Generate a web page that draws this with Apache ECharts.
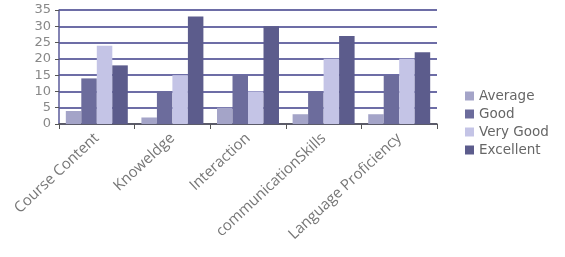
<!DOCTYPE html>
<html>
<head>
<meta charset="utf-8">
<script src="https://cdn.jsdelivr.net/npm/echarts@6/dist/echarts.min.js"></script>
<style>
  html, body { margin: 0; padding: 0; background: #fff; }
  #main { width: 565px; height: 257px; }
</style>
</head>
<body>
<div id="main"></div>
<script>
// categories and ratings
var categories = ['Course Content', 'Knoweldge', 'Interaction', 'communicationSkills', 'Language Proficiency']
var average = [4, 2, 5, 3, 3]
var good = [14, 10, 15, 10, 15]
var veryGood = [24, 15, 10, 20, 20]
var excellent = [18, 33, 30, 27, 22]

var seriesNames = ['Average', 'Good', 'Very Good', 'Excellent']
var seriesColors = ['#a4a4c8', '#6c6c9c', '#c4c4e6', '#5c5c8c']
var seriesData = [average, good, veryGood, excellent]

var myChart = echarts.init(document.getElementById('main'))
myChart.setOption({
  animation: false,
  textStyle: { fontFamily: 'Open Sans' },
  grid: { left: 59, right: 128, top: 10, bottom: 133 },
  legend: {
    orient: 'vertical',
    left: 460,
    top: 84,
    itemWidth: 9,
    itemHeight: 9,
    itemGap: 4,
    icon: 'rect',
    textStyle: { color: '#666', fontSize: 13.5, fontFamily: 'DejaVu Sans' },
    data: seriesNames
  },
  xAxis: {
    type: 'category',
    data: categories,
    axisLine: { lineStyle: { color: '#555', width: 1.5 } },
    axisTick: { show: true, length: 5, lineStyle: { color: '#555' } },
    axisLabel: { rotate: 43, color: '#777', fontSize: 15, margin: 12, interval: 0 }
  },
  yAxis: {
    type: 'value',
    min: 0,
    max: 35,
    interval: 5,
    axisLine: { show: true, lineStyle: { color: '#5a5a9a', width: 1.5 } },
    axisTick: { show: true, length: 4, lineStyle: { color: '#555' } },
    axisLabel: { color: '#888', fontSize: 13, margin: 8, fontFamily: 'DejaVu Sans' },
    splitLine: { lineStyle: { color: '#3c3c88', width: 1.5 } }
  },
  series: seriesNames.map(function (name, i) {
    return {
      name: name,
      type: 'bar',
      data: seriesData[i],
      barGap: '0%',
      barCategoryGap: '18%',
      itemStyle: { color: seriesColors[i] }
    }
  })
})
</script>
</body>
</html>
